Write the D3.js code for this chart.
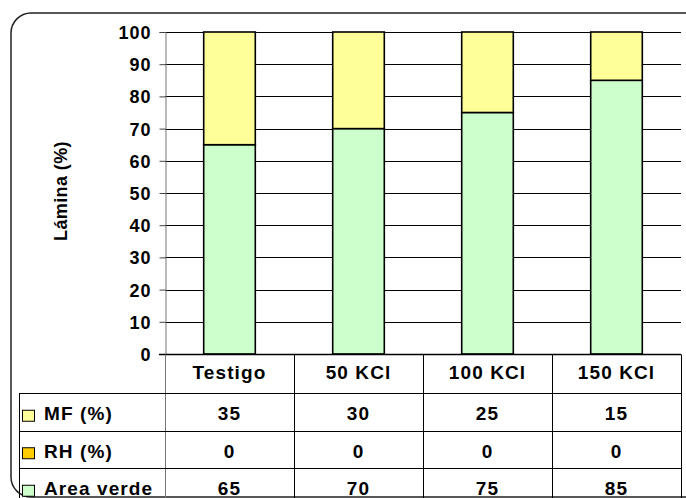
<!DOCTYPE html>
<html>
<head>
<meta charset="utf-8">
<script src="https://cdn.jsdelivr.net/npm/d3@7"></script>
<style>
body { margin: 0; background: #fff; }
text { font-family: "Liberation Sans", Arial, sans-serif; font-weight: bold; fill: #000; }
</style>
</head>
<body>
<script>
var width = 686,
    height = 498;

// data
var categories = ["Testigo", "50 KCl", "100 KCl", "150 KCl"];
var mf = [35, 30, 25, 15];
var rh = [0, 0, 0, 0];
var areaVerde = [65, 70, 75, 85];
var seriesKeys = ["verde", "rh", "mf"];
var tableRows = [
  {label: "MF (%)", color: "#ffff99", values: mf},
  {label: "RH (%)", color: "#ffcc00", values: rh},
  {label: "Area verde", color: "#ccffcc", values: areaVerde}
];
var yTicks = [0, 10, 20, 30, 40, 50, 60, 70, 80, 90, 100];

var colors = {verde: "#ccffcc", rh: "#ffcc00", mf: "#ffff99"};
var tableFont = "19px", tableSpacing = "1.1px";

var rows = categories.map(function(c, i) {
  return {cat: c, verde: areaVerde[i], rh: rh[i], mf: mf[i]};
});

var svg = d3.select("body")
            .append("svg")
            .attr("width", width)
            .attr("height", height);

// outer rounded frame
svg.append("rect")
   .attr("x", 11).attr("y", 13)
   .attr("width", 700).attr("height", 484)
   .attr("rx", 20).attr("ry", 20)
   .attr("fill", "none")
   .attr("stroke", "#222")
   .attr("stroke-width", 1.5);

var plotLeft = 165, plotRight = 681, plotTop = 32, plotBottom = 354;

var x = d3.scaleBand().domain(categories).range([plotLeft, plotRight]).padding(0),
    y = d3.scaleLinear().domain([0, 100]).range([plotBottom, plotTop]);

// gridlines
svg.append("g")
   .selectAll("line")
   .data(yTicks.filter(function(d) { return d > 0; }))
   .enter()
   .append("line")
   .attr("x1", plotLeft).attr("x2", plotRight)
   .attr("y1", function(d) { return Math.round(y(d)) + 0.5; })
   .attr("y2", function(d) { return Math.round(y(d)) + 0.5; })
   .attr("stroke", "#000")
   .attr("stroke-width", 1);

// y axis
var yAxis = svg.append("g")
   .attr("transform", "translate(" + (plotLeft + 0.5) + ",0)")
   .call(d3.axisLeft(y).tickValues(yTicks).tickSize(6).tickPadding(8));
yAxis.select(".domain").attr("stroke", "#777");
yAxis.selectAll(".tick line").attr("stroke", "#444");
yAxis.selectAll("text")
     .attr("dy", "0.36em")
     .style("font-size", "18px")
     .style("font-weight", "bold")
     .style("letter-spacing", "1px")
     .style("font-family", "'Liberation Sans', Arial, sans-serif");

// stacked bars
var stack = d3.stack().keys(seriesKeys)(rows);
var barW = x.bandwidth() * 0.4;

svg.append("g")
   .selectAll("g")
   .data(stack)
   .enter()
   .append("g")
   .attr("fill", function(d) { return colors[d.key]; })
   .selectAll("rect")
   .data(function(d) { return d.filter(function(p) { return p[1] - p[0] > 0; }); })
   .enter()
   .append("rect")
   .attr("x", function(d) { return x(d.data.cat) + (x.bandwidth() - barW) / 2; })
   .attr("y", function(d) { return y(d[1]); })
   .attr("width", barW)
   .attr("height", function(d) { return y(d[0]) - y(d[1]); })
   .attr("stroke", "#000")
   .attr("stroke-width", 1.6);

// zero line
svg.append("line")
   .attr("x1", plotLeft - 6).attr("x2", plotRight)
   .attr("y1", plotBottom + 0.5).attr("y2", plotBottom + 0.5)
   .attr("stroke", "#000").attr("stroke-width", 1.5);

// y label
svg.append("text")
   .attr("transform", "translate(67,191) rotate(-90)")
   .attr("text-anchor", "middle")
   .style("font-size", "18px")
   .style("letter-spacing", "0.4px")
   .text("Lámina (%)");

// data table
var headTop = plotBottom + 0.5, rowTop = 393, rowH = 37.5, tableLeft = 19;
var tableBottom = rowTop + rowH * tableRows.length;

var t = svg.append("g");

// category separators
t.selectAll("line.v")
 .data(categories.map(function(c) { return x(c); }).concat([plotRight]))
 .enter()
 .append("line")
 .attr("x1", function(d) { return Math.round(d) + 0.5; })
 .attr("x2", function(d) { return Math.round(d) + 0.5; })
 .attr("y1", headTop).attr("y2", tableBottom)
 .attr("stroke", function(d, i) { return i === 0 ? "#777" : "#000"; })
 .attr("stroke-width", 1);

t.append("line")
 .attr("x1", tableLeft + 0.5).attr("x2", tableLeft + 0.5)
 .attr("y1", rowTop).attr("y2", tableBottom)
 .attr("stroke", "#000");

t.selectAll("line.h")
 .data(d3.range(tableRows.length + 1))
 .enter()
 .append("line")
 .attr("x1", tableLeft).attr("x2", plotRight)
 .attr("y1", function(d) { return Math.round(rowTop + d * rowH) + 0.5; })
 .attr("y2", function(d) { return Math.round(rowTop + d * rowH) + 0.5; })
 .attr("stroke", "#000");

// header labels
t.selectAll("text.head")
 .data(categories)
 .enter()
 .append("text")
 .attr("x", function(d) { return x(d) + x.bandwidth() / 2; })
 .attr("y", (headTop + rowTop) / 2)
 .attr("dy", "0.3em")
 .attr("text-anchor", "middle")
 .style("font-size", tableFont)
 .style("letter-spacing", tableSpacing)
 .text(function(d) { return d; });

var rowG = t.selectAll("g.row")
 .data(tableRows)
 .enter()
 .append("g")
 .attr("transform", function(d, i) { return "translate(0," + (rowTop + rowH * i + rowH / 2) + ")"; });

rowG.append("rect")
    .attr("x", 22.5).attr("y", -1.5)
    .attr("width", 12).attr("height", 11)
    .attr("fill", function(d) { return d.color; })
    .attr("stroke", "#000")
    .attr("stroke-width", 1);

rowG.append("text")
    .attr("x", 44)
    .attr("dy", "0.45em")
    .style("font-size", tableFont)
    .style("letter-spacing", tableSpacing)
    .text(function(d) { return d.label; });

rowG.selectAll("text.val")
    .data(function(d) { return d.values; })
    .enter()
    .append("text")
    .attr("x", function(d, i) { return x(categories[i]) + x.bandwidth() / 2; })
    .attr("dy", "0.45em")
    .attr("text-anchor", "middle")
    .style("font-size", tableFont)
    .style("letter-spacing", tableSpacing)
    .text(function(d) { return d; });
</script>
</body>
</html>
